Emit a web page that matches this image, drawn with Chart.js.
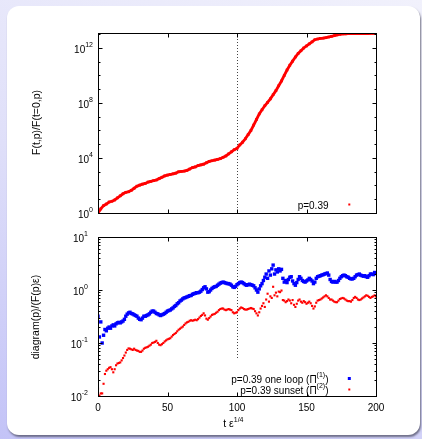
<!DOCTYPE html>
<html>
<head>
<meta charset="utf-8">
<script src="https://cdn.jsdelivr.net/npm/chart.js@4.4.1/dist/chart.umd.min.js"></script>
<style>
    html, body { margin: 0; padding: 0; }
    body {
        width: 422px; height: 439px; overflow: hidden; position: relative;
        background: linear-gradient(200deg, #f1f1fc 0%, #dfdff9 50%, #c3c3f7 100%);
    }
    #card {
        position: absolute; left: 7px; top: 6px; width: 413px; height: 429px;
        background: #fff; border-radius: 12px;
        box-shadow: 1px 2px 2px rgba(70, 70, 90, 0.7);
    }
    canvas { position: absolute; left: 0; top: 0; }
</style>
</head>
<body>
<div id="card"></div>
<canvas id="topChart" width="422" height="439"></canvas>
<canvas id="bottomChart" width="422" height="439"></canvas>
<script>
// t eps^(1/4), every 2 for the top panel
const tTop = [
    0, 2, 4, 6, 8, 10, 12, 14, 16, 18, 20, 22, 24, 26, 28, 30, 32, 34, 36, 38,
    40, 42, 44, 46, 48, 50, 52, 54, 56, 58, 60, 62, 64, 66, 68, 70, 72, 74, 76, 78,
    80, 82, 84, 86, 88, 90, 92, 94, 96, 98, 100, 102, 104, 106, 108, 110, 112, 114, 116, 118,
    120, 122, 124, 126, 128, 130, 132, 134, 136, 138, 140, 142, 144, 146, 148, 150, 152, 154, 156, 158,
    160, 162, 164, 166, 168, 170, 172, 174, 176, 178, 180, 182, 184, 186, 188, 190, 192, 194, 196, 198,
    200
];

// F(t,p)/F(t=0,p), p=0.39
const ratioF = [
    1, 2.0, 3.4, 4.5, 6.3, 7.1, 8.9, 12.6, 17.8, 25,
    32, 35, 45, 63, 89, 107, 126, 141, 178, 200,
    224, 251, 316, 398, 501, 575, 631, 708, 794, 1000,
    1050, 1120, 1260, 1580, 2000, 2240, 2820, 3160, 3550, 4470,
    5620, 6310, 7080, 7940, 8910, 1.12e4, 1.41e4, 2.0e4, 2.82e4, 3.98e4,
    5.0e4, 8.9e4, 1.41e5, 2.5e5, 5.0e5, 1.0e6, 2.5e6, 6.3e6, 1.6e7, 3.2e7,
    6.3e7, 1.1e8, 2.0e8, 4.0e8, 7.9e8, 1.8e9, 4.0e9, 1.0e10, 2.5e10, 5.6e10,
    1.1e11, 2.2e11, 4.0e11, 6.3e11, 1.0e12, 1.4e12, 2.0e12, 2.8e12, 4.0e12, 4.5e12,
    5.0e12, 5.2e12, 5.6e12, 6.3e12, 7.1e12, 7.9e12, 8.9e12, 1.0e13, 1.05e13, 1.07e13,
    1.1e13, 1.1e13, 1.12e13, 1.1e13, 1.12e13, 1.13e13, 1.14e13, 1.13e13, 1.15e13, 1.16e13,
    1.17e13
];

// t eps^(1/4), every 1 for the bottom panel
const tBottom = [
    0, 1, 2, 3, 4, 5, 6, 7, 8, 9, 10, 11, 12, 13, 14, 15, 16, 17, 18, 19,
    20, 21, 22, 23, 24, 25, 26, 27, 28, 29, 30, 31, 32, 33, 34, 35, 36, 37, 38, 39,
    40, 41, 42, 43, 44, 45, 46, 47, 48, 49, 50, 51, 52, 53, 54, 55, 56, 57, 58, 59,
    60, 61, 62, 63, 64, 65, 66, 67, 68, 69, 70, 71, 72, 73, 74, 75, 76, 77, 78, 79,
    80, 81, 82, 83, 84, 85, 86, 87, 88, 89, 90, 91, 92, 93, 94, 95, 96, 97, 98, 99,
    100, 101, 102, 103, 104, 105, 106, 107, 108, 109, 110, 111, 112, 113, 114, 115, 116, 117, 118, 119,
    120, 121, 122, 123, 124, 125, 126, 127, 128, 129, 130, 131, 132, 133, 134, 135, 136, 137, 138, 139,
    140, 141, 142, 143, 144, 145, 146, 147, 148, 149, 150, 151, 152, 153, 154, 155, 156, 157, 158, 159,
    160, 161, 162, 163, 164, 165, 166, 167, 168, 169, 170, 171, 172, 173, 174, 175, 176, 177, 178, 179,
    180, 181, 182, 183, 184, 185, 186, 187, 188, 189, 190, 191, 192, 193, 194, 195, 196, 197, 198, 199,
    200
];

// diagram(p)/(F(p) eps), one loop (Pi^(1))
const oneLoop = [
    0.32, 0.13, 0.25, 0.10, 0.14, 0.18, 0.17, 0.19, 0.20, 0.19,
    0.21, 0.22, 0.21, 0.23, 0.24, 0.245, 0.24, 0.25, 0.26, 0.28,
    0.32, 0.35, 0.37, 0.38, 0.36, 0.355, 0.34, 0.33, 0.32, 0.295,
    0.28, 0.275, 0.295, 0.32, 0.32, 0.33, 0.34, 0.355, 0.38, 0.40,
    0.40, 0.38, 0.36, 0.355, 0.34, 0.33, 0.34, 0.35, 0.36, 0.38,
    0.40, 0.41, 0.42, 0.44, 0.46, 0.49, 0.51, 0.55, 0.575, 0.62,
    0.645, 0.68, 0.71, 0.72, 0.74, 0.76, 0.78, 0.79, 0.83, 0.85,
    0.87, 0.89, 0.89, 0.91, 0.95, 1.02, 1.10, 1.15, 1.05, 0.91,
    0.93, 1.0, 1.07, 1.12, 1.15, 1.17, 1.23, 1.29, 1.35, 1.38,
    1.41, 1.38, 1.35, 1.32, 1.32, 1.29, 1.23, 1.15, 1.12, 1.17,
    1.26, 1.32, 1.38, 1.41, 1.38, 1.32, 1.26, 1.23, 1.26, 1.29,
    1.26, 1.23, 1.20, 1.10, 1.0, 0.91, 1.05, 1.20, 1.32, 1.51,
    1.74, 2.0, 1.66, 2.29, 1.91, 2.51, 2.95, 2.0, 2.40, 2.19,
    2.51, 2.29, 2.45, 1.66, 1.41, 1.51, 1.38, 1.58, 1.74, 1.78,
    1.48, 1.32, 1.23, 1.38, 1.58, 1.78, 1.66, 1.51, 1.45, 1.41,
    1.48, 1.55, 1.66, 1.58, 1.48, 1.32, 1.41, 1.66, 1.78, 1.82,
    1.86, 1.91, 1.95, 2.0, 2.04, 2.09, 1.91, 1.58, 1.45, 1.41,
    1.45, 1.41, 1.41, 1.51, 1.66, 1.78, 1.86, 1.91, 1.86, 1.78,
    1.74, 1.66, 1.62, 1.62, 1.66, 1.78, 1.91, 1.95, 2.0, 1.91,
    1.86, 1.82, 1.86, 1.78, 1.74, 1.86, 2.0, 2.0, 1.95, 2.14,
    2.04
];

// diagram(p)/(F(p) eps), sunset (Pi^(2))
const sunset = [
    0.0138, 0.0102, 0.0112, 0.0112, 0.017, 0.026, 0.030, 0.032, 0.034, 0.035,
    0.032, 0.028, 0.032, 0.038, 0.041, 0.042, 0.043, 0.047, 0.052, 0.058,
    0.066, 0.074, 0.079, 0.078, 0.076, 0.074, 0.078, 0.074, 0.072, 0.071,
    0.068, 0.068, 0.072, 0.078, 0.081, 0.083, 0.085, 0.089, 0.093, 0.100,
    0.102, 0.105, 0.110, 0.100, 0.093, 0.091, 0.095, 0.100, 0.107, 0.112,
    0.117, 0.120, 0.123, 0.132, 0.141, 0.148, 0.155, 0.166, 0.178, 0.186,
    0.195, 0.204, 0.219, 0.234, 0.245, 0.251, 0.263, 0.269, 0.263, 0.269,
    0.275, 0.269, 0.282, 0.302, 0.324, 0.339, 0.363, 0.331, 0.288, 0.275,
    0.295, 0.316, 0.339, 0.347, 0.355, 0.372, 0.389, 0.417, 0.437, 0.447,
    0.447, 0.427, 0.417, 0.427, 0.437, 0.427, 0.417, 0.380, 0.363, 0.372,
    0.380, 0.417, 0.447, 0.468, 0.457, 0.437, 0.427, 0.427, 0.437, 0.447,
    0.457, 0.447, 0.437, 0.398, 0.363, 0.331, 0.380, 0.447, 0.501, 0.562,
    0.479, 0.661, 0.851, 0.603, 0.759, 0.708, 1.15, 0.794, 0.891, 0.759,
    0.933, 0.912, 0.977, 0.646, 0.631, 0.589, 0.617, 0.661, 0.631, 0.562,
    0.646, 0.525, 0.479, 0.550, 0.631, 0.661, 0.603, 0.575, 0.617, 0.589,
    0.550, 0.575, 0.603, 0.562, 0.501, 0.447, 0.490, 0.575, 0.631, 0.646,
    0.661, 0.692, 0.724, 0.759, 0.794, 0.759, 0.708, 0.661, 0.661, 0.631,
    0.603, 0.589, 0.589, 0.631, 0.676, 0.692, 0.708, 0.692, 0.661, 0.631,
    0.617, 0.617, 0.603, 0.646, 0.708, 0.741, 0.708, 0.661, 0.646, 0.661,
    0.692, 0.724, 0.759, 0.794, 0.776, 0.741, 0.708, 0.741, 0.759, 0.794,
    0.759
];

// axes
const xTicks = [0, 50, 100, 150, 200];
const xTickLabels = ['0', '50', '100', '150', '200'];
const markerT = 100;

const topYTicks = [1, 1e4, 1e8, 1e12];
const topYExponents = ['0', '4', '8', '12'];
const topYMinor = [1e1, 1e2, 1e3, 1e5, 1e6, 1e7, 1e9, 1e10, 1e11, 1e13];

const bottomYTicks = [0.01, 0.1, 1, 10];
const bottomYExponents = ['-2', '-1', '0', '1'];
const bottomYMinor = [
    0.02, 0.03, 0.04, 0.05, 0.06, 0.07, 0.08, 0.09,
    0.2, 0.3, 0.4, 0.5, 0.6, 0.7, 0.8, 0.9,
    2, 3, 4, 5, 6, 7, 8, 9
];

const FONT = '"Liberation Sans", Arial, Helvetica, sans-serif';
const RED = '#ff0000';
const BLUE = '#0000ff';

// draw a run of text pieces, some of them raised, ending at xRight
function drawRich(ctx, parts, xRight, yMid, size) {
    const sup = Math.round(size * 0.7);
    let total = 0;
    parts.forEach(p => {
        ctx.font = (p[1] ? sup : size) + 'px ' + FONT;
        p.w = ctx.measureText(p[0]).width;
        total += p.w;
    });
    let x = xRight - total;
    ctx.textAlign = 'left';
    ctx.textBaseline = 'middle';
    parts.forEach(p => {
        ctx.font = (p[1] ? sup : size) + 'px ' + FONT;
        ctx.fillText(p[0], x, p[1] ? yMid - 4.5 : yMid);
        x += p.w;
    });
    return total;
}

const gnuplotFrame = {
    id: 'gnuplotFrame',
    beforeDatasetsDraw(chart, args, o) {
        const { ctx, chartArea: a, scales: { x, y } } = chart;
        const mx = Math.round(x.getPixelForValue(markerT)) + 0.5;
        ctx.save();
        ctx.strokeStyle = '#444';
        ctx.lineWidth = 1;
        ctx.setLineDash([1, 2]);
        ctx.beginPath();
        ctx.moveTo(mx, a.top);
        ctx.lineTo(mx, o.markerTo ? y.getPixelForValue(o.markerTo) : a.bottom);
        ctx.stroke();
        ctx.restore();
    },
    afterDraw(chart, args, o) {
        const { ctx, chartArea: a, scales: { x, y } } = chart;
        ctx.save();
        ctx.strokeStyle = '#000';
        ctx.fillStyle = '#000';
        ctx.lineWidth = 1;
        const L = Math.round(a.left) + 0.5, R = Math.round(a.right) + 0.5;
        const T = Math.round(a.top) + 0.5, B = Math.round(a.bottom) + 0.5;
        ctx.strokeRect(L, T, R - L, B - T);

        ctx.beginPath();
        xTicks.forEach(v => {
            const px = Math.round(x.getPixelForValue(v)) + 0.5;
            ctx.moveTo(px, B); ctx.lineTo(px, B - 4);
            ctx.moveTo(px, T); ctx.lineTo(px, T + 4);
        });
        o.yTicks.forEach(v => {
            const py = Math.round(y.getPixelForValue(v)) + 0.5;
            ctx.moveTo(L, py); ctx.lineTo(L + 4, py);
            ctx.moveTo(R, py); ctx.lineTo(R - 4, py);
        });
        o.yMinor.forEach(v => {
            const py = Math.round(y.getPixelForValue(v)) + 0.5;
            ctx.moveTo(L, py); ctx.lineTo(L + 2, py);
            ctx.moveTo(R, py); ctx.lineTo(R - 2, py);
        });
        ctx.stroke();

        // y tick labels 10^n
        o.yTicks.forEach((v, i) => {
            const py = y.getPixelForValue(v);
            drawRich(ctx, [['10', false], [o.yExponents[i], true]], o.labelRight, py + 2, 10);
        });

        if (o.xLabels) {
            ctx.font = '10px ' + FONT;
            ctx.textAlign = 'center';
            ctx.textBaseline = 'middle';
            xTicks.forEach((v, i) => {
                ctx.fillText(xTickLabels[i], x.getPixelForValue(v), B + 12);
            });
            drawRich(ctx, [['t ε', false], ['1/4', true]], 243.5, B + 28, 10.5);
        }

        // rotated y title
        ctx.save();
        ctx.translate(o.titleX, o.titleY);
        ctx.rotate(-Math.PI / 2);
        ctx.font = '10.5px ' + FONT;
        ctx.textAlign = 'center';
        ctx.textBaseline = 'middle';
        ctx.fillText(o.title, 0, 0);
        ctx.restore();

        // key
        o.key.forEach(k => {
            ctx.fillStyle = '#000';
            drawRich(ctx, k.parts, 328.5, k.y, 10);
            ctx.fillStyle = k.color;
            ctx.fillRect(349.3 - k.size / 2, k.y - 1.5 - k.size / 2, k.size, k.size);
        });
        ctx.restore();
    }
};

const baseOptions = (padTop, padBottom, yMin, yMax, frameOpts) => ({
    responsive: false,
    animation: false,
    events: [],
    layout: { padding: { left: 98, right: 46, top: padTop, bottom: padBottom } },
    scales: {
        x: { type: 'linear', display: false, min: 0, max: 200 },
        y: { type: 'logarithmic', display: false, min: yMin, max: yMax }
    },
    plugins: {
        legend: { display: false },
        tooltip: { enabled: false },
        gnuplotFrame: frameOpts
    }
});

new Chart(document.getElementById('topChart'), {
    type: 'scatter',
    data: {
        datasets: [{
            label: 'p=0.39',
            data: tTop.map((t, i) => ({ x: t, y: ratioF[i] })),
            showLine: true,
            borderColor: RED,
            borderWidth: 2.8,
            backgroundColor: RED,
            pointStyle: 'rect',
            pointRadius: 1.9,
            pointBorderWidth: 0
        }]
    },
    options: baseOptions(33, 226, 1, 1.23e13, {
        yTicks: topYTicks, yExponents: topYExponents, yMinor: topYMinor,
        labelRight: 93, xLabels: false,
        title: 'F(t,p)/F(t=0,p)', titleX: 37, titleY: 122.5,
        key: [{ parts: [['p=0.39', false]], y: 206, color: RED, size: 2 }]
    }),
    plugins: [gnuplotFrame]
});

new Chart(document.getElementById('bottomChart'), {
    type: 'scatter',
    data: {
        datasets: [{
            label: 'p=0.39 one loop',
            data: tBottom.map((t, i) => ({ x: t, y: oneLoop[i] })),
            backgroundColor: BLUE,
            pointStyle: 'rect',
            pointRadius: 2.4,
            pointBorderWidth: 0
        }, {
            label: 'p=0.39 sunset',
            data: tBottom.map((t, i) => ({ x: t, y: sunset[i] })),
            backgroundColor: RED,
            pointStyle: 'rect',
            pointRadius: 1.5,
            pointBorderWidth: 0
        }]
    },
    options: baseOptions(237, 43, 0.01, 10, {
        yTicks: bottomYTicks, yExponents: bottomYExponents, yMinor: bottomYMinor,
        labelRight: 88, xLabels: true, markerTo: 0.05,
        title: 'diagram(p)/(F(p)ε)', titleX: 36, titleY: 317,
        key: [
            { parts: [['p=0.39 one loop (Π', false], ['(1)', true], [')', false]], y: 380, color: BLUE, size: 3 },
            { parts: [['p=0.39 sunset (Π', false], ['(2)', true], [')', false]], y: 391, color: RED, size: 2 }
        ]
    }),
    plugins: [gnuplotFrame]
});
</script>
</body>
</html>
